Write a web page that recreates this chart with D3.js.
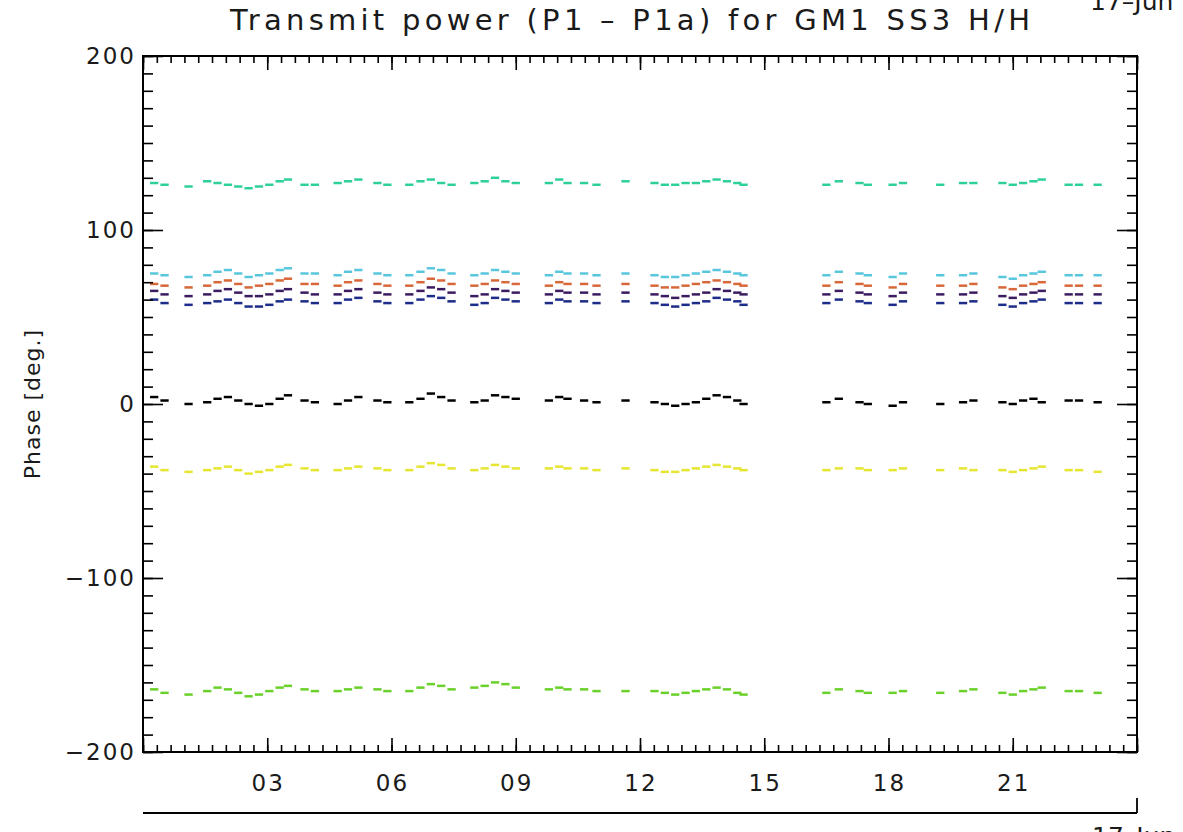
<!DOCTYPE html>
<meta charset="utf-8">
<html>
<head>
<script src="https://cdn.jsdelivr.net/npm/d3@7"></script>
<style>
  body { margin: 0; background: #fff; }
  text { font-family: "DejaVu Sans", sans-serif; fill: #1a1a1a; }
</style>
</head>
<body>
<div id="chart"></div>
<script type="text/javascript">
// scan start times (hours of day)
var scanTimes = [0.17,0.42,1.0, 1.45,1.7,1.95,2.2,2.45,2.7,2.95,3.2,3.4, 3.8,4.05, 4.6,4.85,5.1, 5.56,5.8,
  6.33,6.6,6.85,7.1,7.35, 7.9,8.15,8.4,8.65,8.9, 9.7,9.95,10.15, 10.55,10.85, 11.55,
  12.25,12.5,12.75,13.0,13.25,13.5,13.75,14.0,14.25,14.4, 16.4,16.7, 17.2,17.4, 18.0,18.25, 19.15,
  19.7,19.95, 20.65,20.9,21.15,21.4,21.6, 22.25,22.5, 22.95];

// phase per scan, one array per antenna
var teal   = [127,126,125, 128,127,126,125,124,125,126,128,129, 126,126, 127,128,129, 127,126, 126,128,129,127,126, 127,128,130,128,127, 127,129,127, 127,126, 128, 127,126,126,127,127,128,129,128,127,126, 126,128, 127,126, 126,127, 126, 127,127, 127,126,127,128,129, 126,126, 126];
var cyan   = [75,74,73, 74,76,77,75,73,74,75,77,78, 75,75, 74,76,77, 75,74, 74,76,78,77,75, 74,75,77,76,75, 74,76,75, 75,74, 75, 74,73,73,74,75,76,77,76,75,74, 74,76, 75,74, 73,75, 74, 74,75, 73,72,74,75,76, 74,74, 74];
var orange = [69,68,67, 68,70,71,69,67,68,69,71,72, 69,69, 68,70,71, 69,68, 68,70,72,71,69, 68,69,71,70,69, 68,70,69, 69,68, 69, 68,67,67,68,69,70,71,70,69,68, 68,70, 69,68, 67,69, 68, 68,69, 67,66,68,69,70, 68,68, 68];
var purple = [65,63,62, 63,65,66,64,62,62,63,65,66, 64,63, 63,65,66, 64,63, 63,65,67,66,64, 62,63,66,65,64, 63,65,64, 64,63, 64, 63,62,61,62,63,64,66,65,64,63, 63,65, 64,63, 62,64, 63, 63,64, 62,61,63,64,65, 63,63, 63];
var navy   = [60,58,57, 58,59,60,58,56,56,57,59,60, 59,58, 58,60,61, 59,58, 58,60,62,61,59, 57,58,61,60,59, 58,60,59, 59,58, 59, 58,57,56,57,58,59,61,60,59,57, 58,60, 59,58, 57,59, 58, 58,59, 57,56,58,59,60, 58,58, 58];
var black  = [4,2,0, 1,3,4,2,0,-1,0,3,5, 2,1, 0,2,4, 2,1, 1,3,6,4,2, 1,2,5,4,3, 2,4,3, 2,1, 2, 1,0,-1,0,1,3,5,4,2,0, 1,3, 1,0, -1,1, 0, 1,2, 1,0,2,3,1, 2,2, 1];
var yellow = [-36,-38,-39, -38,-37,-36,-38,-40,-39,-38,-36,-35, -37,-38, -38,-37,-36, -37,-38, -38,-36,-34,-35,-37, -38,-37,-35,-36,-37, -37,-36,-37, -37,-38, -37, -38,-39,-39,-38,-37,-36,-35,-36,-37,-38, -38,-37, -37,-38, -38,-37, -38, -37,-38, -38,-39,-38,-37,-36, -38,-38, -39];
var green  = [-164,-166,-167, -165,-163,-164,-166,-168,-167,-165,-163,-162, -164,-165, -165,-164,-163, -164,-165, -165,-163,-161,-162,-164, -163,-162,-160,-161,-163, -164,-163,-164, -164,-165, -165, -165,-166,-167,-166,-165,-164,-163,-164,-166,-167, -166,-164, -165,-166, -166,-165, -166, -165,-164, -166,-167,-165,-164,-163, -165,-165, -166];

var series = [
  { values: teal,   color: "#2fcf9c" },
  { values: cyan,   color: "#58c6dc" },
  { values: orange, color: "#d8683a" },
  { values: purple, color: "#3c1c60" },
  { values: navy,   color: "#1c2c88" },
  { values: black,  color: "#000000" },
  { values: yellow, color: "#e6e632" },
  { values: green,  color: "#6ad02a" }
];

var xMajor = [0,3,6,9,12,15,18,21,24];
var xLabels = ["","03","06","09","12","15","18","21",""];
var yMajor = [-200,-100,0,100,200];

var W = 1183, H = 832;
var pL = 143, pR = 1137, pT = 56, pB = 752;
var scanLen = 0.2; // hours covered by one scan dash

var svg = d3.select("#chart").append("svg").attr("width", W).attr("height", H);

var x = d3.scaleLinear().domain([0, 24]).range([pL, pR]);
var y = d3.scaleLinear().domain([-200, 200]).range([pB, pT]);

// data dashes
series.forEach(function (s) {
  svg.append("g").selectAll("line")
    .data(scanTimes)
    .enter().append("line")
    .attr("x1", function (t) { return x(t); })
    .attr("x2", function (t) { return x(t + scanLen); })
    .attr("y1", function (t, i) { return y(s.values[i]); })
    .attr("y2", function (t, i) { return y(s.values[i]); })
    .style("stroke", s.color)
    .style("stroke-width", 2.5);
});

// axes: inward ticks, majors and minors
var xMinor = d3.range(0, 24.001, 1 / 3);
var yMinor = d3.range(-200, 200.001, 10);

function addAxis(axisFn, scale, vals, size, transform) {
  var g = svg.append("g").attr("transform", transform)
    .call(axisFn(scale).tickValues(vals).tickSize(size).tickSizeOuter(0).tickFormat(""));
  g.select(".domain").remove();
  g.selectAll("line").style("stroke", "#000").style("stroke-width", 1.6);
  return g;
}
addAxis(d3.axisBottom, x, xMinor, -7, "translate(0," + pB + ")");
addAxis(d3.axisBottom, x, xMajor, -14, "translate(0," + pB + ")");
addAxis(d3.axisTop, x, xMinor, -7, "translate(0," + pT + ")");
addAxis(d3.axisTop, x, xMajor, -14, "translate(0," + pT + ")");
addAxis(d3.axisLeft, y, yMinor, -10, "translate(" + pL + ",0)");
addAxis(d3.axisLeft, y, yMajor, -20, "translate(" + pL + ",0)");
addAxis(d3.axisRight, y, yMinor, -10, "translate(" + pR + ",0)");
addAxis(d3.axisRight, y, yMajor, -20, "translate(" + pR + ",0)");

svg.append("rect")
  .attr("x", pL).attr("y", pT)
  .attr("width", pR - pL).attr("height", pB - pT)
  .style("fill", "none").style("stroke", "#000").style("stroke-width", 2);

// tick labels
svg.selectAll(".xl").data(xMajor).enter().append("text")
  .attr("x", function (d) { return x(d) + 1; })
  .attr("y", pB + 39)
  .attr("text-anchor", "middle")
  .style("font-size", "23px")
  .style("letter-spacing", "2px")
  .text(function (d, i) { return xLabels[i]; });

svg.selectAll(".yl").data(yMajor).enter().append("text")
  .attr("x", pL - 7)
  .attr("y", function (d) { return y(d) + 8; })
  .attr("text-anchor", "end")
  .style("font-size", "23px")
  .style("letter-spacing", "2px")
  .text(function (d) { return d < 0 ? "\u2212" + Math.abs(d) : d; });

// titles
svg.append("text")
  .attr("x", 630).attr("y", 30)
  .attr("text-anchor", "middle")
  .attr("textLength", 800)
  .attr("lengthAdjust", "spacing")
  .style("font-size", "29px")
  .text("Transmit power (P1 \u2013 P1a) for GM1 SS3 H/H");

svg.append("text")
  .attr("transform", "translate(40," + ((pT + pB) / 2) + ") rotate(-90)")
  .attr("text-anchor", "middle")
  .style("font-size", "22px")
  .style("letter-spacing", "1px")
  .text("Phase [deg.]");

svg.append("text")
  .attr("x", 1090).attr("y", 10)
  .style("font-size", "25px")
  .text("17\u2013Jun");

// second time axis under the plot
svg.append("line")
  .attr("x1", pL).attr("x2", pR)
  .attr("y1", 813).attr("y2", 813)
  .style("stroke", "#000").style("stroke-width", 1.8);
svg.append("line")
  .attr("x1", pR).attr("x2", pR)
  .attr("y1", 798).attr("y2", 813)
  .style("stroke", "#000").style("stroke-width", 1.8);

svg.append("text")
  .attr("x", 1092).attr("y", 845)
  .style("font-size", "25px")
  .text("17\u2013Jun");
</script>
</body>
</html>
